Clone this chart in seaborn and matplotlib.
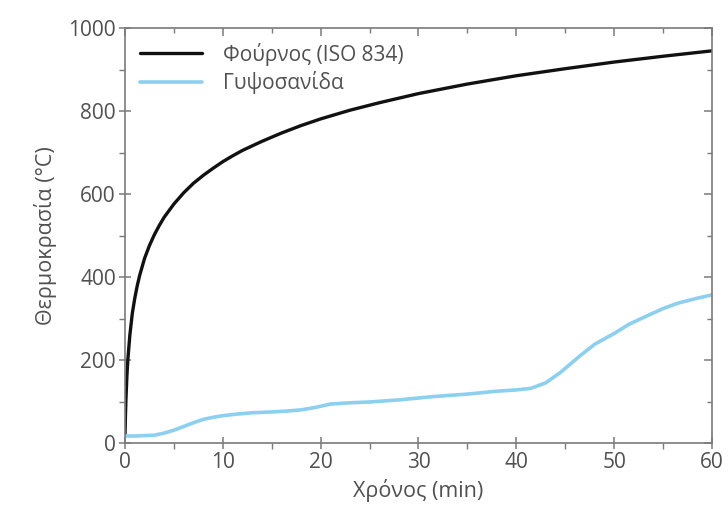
import matplotlib
matplotlib.use("Agg")
import matplotlib.pyplot as plt
import seaborn as sns
import pandas as pd
from matplotlib.ticker import MultipleLocator

# ISO 834 furnace curve
t_fire = [0, 0.05, 0.1, 0.2, 0.3, 0.5, 0.75, 1, 1.25, 1.5, 2, 2.5, 3, 3.5, 4, 5, 6, 7, 8, 9, 10,
          11, 12, 14, 16, 18, 20, 23, 26, 30, 35, 40, 45, 50, 55, 60]
T_fire = [20, 70, 108, 164, 204, 261, 313, 349, 379, 404, 445, 476, 502, 524, 544, 576, 603,
          626, 645, 662, 678, 692, 705, 727, 747, 765, 781, 802, 820, 842, 865, 885, 902, 918,
          932, 945]

# Gypsum board curve
t_gyp = [0, 1, 2, 3, 4, 5, 6, 7, 8, 9, 10, 11.5, 13, 15, 16.5, 18, 19.5, 21, 23, 25, 28,
         31.5, 35, 38, 40, 41.5, 43, 44.5, 46.5, 48, 50, 51.5, 53.5, 55, 56.5, 58.5, 60]
T_gyp = [17, 17, 18, 19, 24, 31, 40, 49, 57, 62, 66, 70, 73, 75, 77, 80, 86, 94, 97, 99, 104,
         112, 118, 125, 128, 132, 145, 170, 210, 238, 264, 286, 308, 324, 337, 349, 357]

labels = ["Φούρνος (ISO 834)", "Γυψοσανίδα"]
x_label = "Χρόνος (min)"
y_label = "Θερμοκρασία (°C)"

sns.set_theme(style="ticks")
plt.rcParams['font.family'] = ['Open Sans', 'DejaVu Sans']

text_c = "#505050"
spine_c = "#7a7a7a"
fs = 15

fig = plt.figure(figsize=(7.28, 5.14), dpi=100)
ax = fig.add_axes([0.1717, 0.138, 0.8063, 0.8075])

df_fire = pd.DataFrame({"t": t_fire, "T": T_fire})
df_gyp = pd.DataFrame({"t": t_gyp, "T": T_gyp})
sns.lineplot(data=df_fire, x="t", y="T", ax=ax, color="#111111", lw=2.4, label=labels[0])
sns.lineplot(data=df_gyp, x="t", y="T", ax=ax, color="#8CCFEE", lw=2.6, label=labels[1])

ax.set_xlim(0, 60)
ax.set_ylim(0, 1000)
ax.xaxis.set_major_locator(MultipleLocator(10))
ax.xaxis.set_minor_locator(MultipleLocator(5))
ax.yaxis.set_major_locator(MultipleLocator(200))
ax.yaxis.set_minor_locator(MultipleLocator(100))

for s in ax.spines.values():
    s.set_color(spine_c)
    s.set_linewidth(1.2)

ax.tick_params(axis='both', which='major', direction='inout', length=9, width=1.1,
               color=spine_c, labelsize=fs, labelcolor=text_c, pad=2,
               left=True, bottom=True, top=False, right=False)
ax.tick_params(axis='both', which='minor', direction='out', length=4, width=1.0, color=spine_c,
               left=True, bottom=True, top=False, right=False)

# top and right: inward ticks, no labels (twin axes)
axr = ax.twinx()
axr.set_ylim(0, 1000)
axr.yaxis.set_major_locator(MultipleLocator(200))
axr.yaxis.set_minor_locator(MultipleLocator(100))
axr.tick_params(axis='y', which='major', direction='in', length=6, width=1.1, color=spine_c,
                right=True, left=False, labelright=False)
axr.tick_params(axis='y', which='minor', direction='in', length=3.5, width=1.0, color=spine_c,
                right=True, left=False)
axt = ax.twiny()
axt.set_xlim(0, 60)
axt.xaxis.set_major_locator(MultipleLocator(10))
axt.xaxis.set_minor_locator(MultipleLocator(5))
axt.tick_params(axis='x', which='major', direction='in', length=6, width=1.1, color=spine_c,
                top=True, bottom=False, labeltop=False)
axt.tick_params(axis='x', which='minor', direction='in', length=3.5, width=1.0, color=spine_c,
                top=True, bottom=False)
for a in (axr, axt):
    for s in a.spines.values():
        s.set_visible(False)

ax.set_xlabel(x_label, fontsize=fs + 0.5, color=text_c, labelpad=4)
ax.set_ylabel(y_label, fontsize=fs + 0.5, color=text_c, labelpad=8)

leg = ax.legend(loc="upper left", frameon=False, fontsize=fs, handlelength=3.0,
                handletextpad=1.0, borderaxespad=0.3, labelspacing=0.25)
for t in leg.get_texts():
    t.set_color(text_c)

fig.savefig("out.png", dpi=100)
